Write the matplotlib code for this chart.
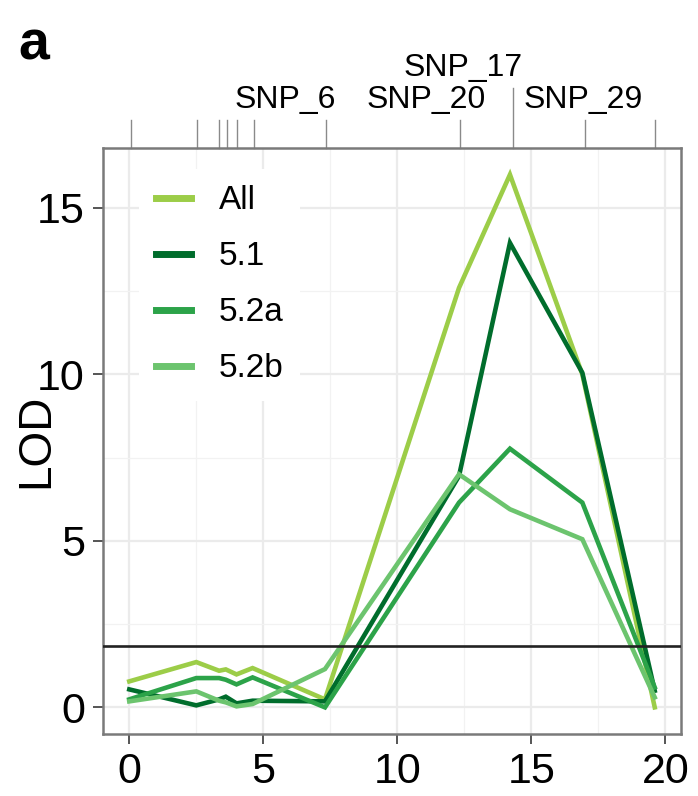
import matplotlib
matplotlib.use("Agg")
import matplotlib.pyplot as plt
import matplotlib.transforms as mtransforms

plt.rcParams['font.family'] = ['Liberation Sans', 'DejaVu Sans']

# marker positions (cM) where the LOD profiles are evaluated
pos = [0.0, 2.5, 3.35, 3.6, 4.0, 4.6, 7.3, 12.3, 14.2, 16.9, 19.6]

lod_all = [0.78, 1.36, 1.1, 1.14, 0.99, 1.18, 0.24, 12.6, 16.0, 10.0, 0.0]
lod_51 = [0.54, 0.06, 0.24, 0.32, 0.12, 0.2, 0.18, 6.95, 13.95, 10.05, 0.5]
lod_52a = [0.24, 0.88, 0.88, 0.83, 0.69, 0.9, 0.0, 6.15, 7.77, 6.15, 0.6]
lod_52b = [0.18, 0.48, 0.2, 0.15, 0.03, 0.1, 1.15, 7.0, 5.95, 5.05, 0.3]

series = [("All", lod_all, "#9ccd48"),
          ("5.1", lod_51, "#006d2c"),
          ("5.2a", lod_52a, "#2ca349"),
          ("5.2b", lod_52b, "#6cc46e")]

threshold = 1.84

# marker map on top
marker_pos = [0.06, 2.54, 3.36, 3.63, 4.0, 4.67, 7.33, 12.34, 14.3, 17.0, 19.6]
long_marker = 14.3
snp_labels = ["SNP_6", "SNP_20", "SNP_17", "SNP_29"]
snp_label_x = [5.8, 11.07, 12.45, 16.93]
snp_label_row = [0, 0, 1, 0]

fig = plt.figure(figsize=(6.98, 7.96), dpi=100)
ax = fig.add_axes([103 / 698, 62 / 796, 578 / 698, 586 / 796])

ax.set_xlim(-0.98, 20.58)
ax.set_ylim(-0.8, 16.8)
ax.set_xticks([0, 5, 10, 15, 20])
ax.set_yticks([0, 5, 10, 15])
ax.set_xticks([2.5, 7.5, 12.5, 17.5], minor=True)
ax.set_yticks([2.5, 7.5, 12.5], minor=True)
ax.grid(which='major', color='#ebebeb', lw=1.6, zorder=0)
ax.grid(which='minor', color='#f2f2f2', lw=0.9, zorder=0)
ax.tick_params(which='major', length=7, width=1.4, color='#555555',
               labelsize=31, labelcolor='black', pad=6)
ax.tick_params(which='minor', length=0)
for sp in ax.spines.values():
    sp.set_color('#7a7a7a')
    sp.set_linewidth(1.8)

for name, vals, col in series:
    ax.plot(pos, vals, color=col, lw=3.3, label=name, zorder=3,
            solid_joinstyle='miter')

ax.axhline(threshold, color='#222222', lw=1.9, zorder=4)

ax.set_ylabel("LOD", fontsize=33)
ax.yaxis.set_label_coords(-0.078, 0.5)

leg = ax.legend(loc='upper left', bbox_to_anchor=(0.062, 0.965), fontsize=24,
                frameon=True, facecolor='white', edgecolor='none',
                fancybox=False, handlelength=1.05, handletextpad=0.85,
                labelspacing=0.75, borderpad=0.5, borderaxespad=0,
                framealpha=1)
for ln in leg.get_lines():
    ln.set_linewidth(5)

# marker ticks above the panel
trans = mtransforms.blended_transform_factory(ax.transData, ax.transAxes)
tick_h = 28 / 586
for m in marker_pos:
    top = 1 + tick_h
    if m == long_marker:
        top = 1 + 60 / 586
    ax.plot([m, m], [1.0, top], transform=trans, color='#8a8a8a', lw=1.0,
            clip_on=False)
for lab, lx, row in zip(snp_labels, snp_label_x, snp_label_row):
    ax.text(lx, 1 + (48 + 32 * row) / 586, lab, transform=trans, ha='center',
            va='center', fontsize=23)

fig.text(34 / 698, 1 - 45 / 796, "a", fontsize=40, fontweight='bold',
         ha='center', va='center')

fig.savefig("out.png", dpi=100)
